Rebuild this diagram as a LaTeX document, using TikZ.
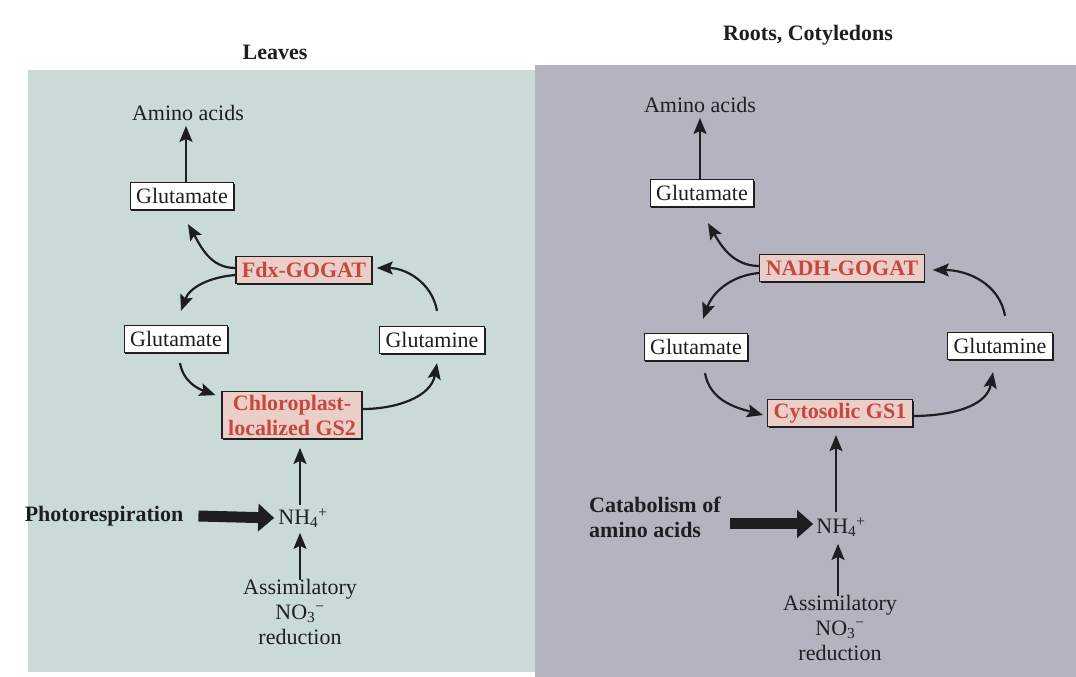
\documentclass[tikz,border=0pt]{standalone}
\usepackage{fontspec}
\setmainfont{Liberation Serif}
\usetikzlibrary{arrows.meta,shadows}
\definecolor{leftbg}{RGB}{202,219,215}
\definecolor{rightbg}{RGB}{180,180,192}
\definecolor{enzfill}{RGB}{236,206,200}
\definecolor{enztext}{RGB}{196,72,62}
\definecolor{ink}{RGB}{30,30,34}
\tikzset{
  txt/.style={font=\fontsize{22}{25}\selectfont, text=ink, inner sep=1pt},
  btxt/.style={txt, font=\fontsize{22}{25}\selectfont\bfseries},
  mol/.style={txt, draw=ink, fill=white, line width=1.3pt, inner xsep=6pt, inner ysep=3pt, minimum height=27pt,
    general shadow={fill=ink, shadow xshift=1.3pt, shadow yshift=-1.3pt}},
  enz/.style={mol, fill=enzfill, text=enztext, font=\fontsize{22}{25}\selectfont\bfseries, align=center},
  flow/.style={draw=ink, line width=2.2pt, -{Stealth[length=16pt,width=13pt,inset=3pt]}},
  bigflow/.style={draw=ink, line width=11pt, -{Triangle[length=16pt,width=27pt]}},
}
\begin{document}
\begin{tikzpicture}[x=1pt,y=1pt]
\useasboundingbox (0,0) rectangle (1076,677);
\fill[white] (0,0) rectangle (1076,677);
% panels
\fill[leftbg] (28,5) rectangle (535,607);
\fill[rightbg] (535,0) rectangle (1076,612);

% titles
\node[btxt] (leaves) at (275,625) {Leaves};
\node[btxt] (roots) at (808,642) {Roots, Cotyledons};

% ---------- left panel ----------
\node[txt] (aminoL) at (188,564) {Amino acids};
\node[mol] (gluTopL) at (182,481) {Glutamate};
\node[enz] (fdx) at (304,407) {Fdx-GOGAT};
\node[mol] (gluL) at (176,338) {Glutamate};
\node[mol] (glnL) at (432,337) {Glutamine};
\node[enz] (chl) at (292,262) {Chloroplast-\\localized GS2};
\node[txt] (nh4L) at (303,159) {NH\textsubscript{4}\textsuperscript{+}};
\node[btxt] (photo) at (104,161) {Photorespiration};
\node[txt, align=center] (assimL) at (300,65) {Assimilatory\\NO\textsubscript{3}\textsuperscript{−}\\reduction};

\draw[flow] (gluTopL.north -| 186,0) coordinate (a1) -- ([yshift=-4pt]a1 |- aminoL.south);
\draw[flow] ([yshift=2pt]fdx.west) to[out=180,in=-60] ([shift={(6pt,-14pt)}]gluTopL.south);
\draw[flow] ([yshift=-5pt]fdx.west) to[out=185,in=70] ([shift={(5pt,14pt)}]gluL.north);
\draw[flow] ([shift={(5pt,15pt)}]glnL.north) to[out=100,in=0] ([shift={(4pt,2pt)}]fdx.east);
\draw[flow] ([shift={(4pt,-10pt)}]gluL.south) to[out=-80,in=160] ([shift={(-6pt,-4pt)}]chl.north west);
\draw[flow] ([yshift=6pt]chl.east) to[out=0,in=-100] ([shift={(5pt,-9pt)}]glnL.south);
\draw[flow] ([yshift=2pt]nh4L.north -| 300,0) -- ([yshift=-9pt]chl.south -| 300,0);
\draw[bigflow] ([xshift=14pt]photo.east) -- ([xshift=-3pt]nh4L.west);
\draw[flow] ([yshift=-2pt]assimL.north) -- ([yshift=-4pt]nh4L.south -| assimL.north);

% ---------- right panel ----------
\node[txt] (aminoR) at (700,572) {Amino acids};
\node[mol] (gluTopR) at (702,484) {Glutamate};
\node[enz] (nadh) at (842,409) {NADH-GOGAT};
\node[mol] (gluR) at (696,330) {Glutamate};
\node[mol] (glnR) at (1000,331) {Glutamine};
\node[enz] (cyt) at (840,264) {Cytosolic GS1};
\node[txt] (nh4R) at (841,150) {NH\textsubscript{4}\textsuperscript{+}};
\node[btxt, align=left, anchor=west] (cat) at (588,160) {Catabolism of\\amino acids};
\node[txt, align=center] (assimR) at (840,49) {Assimilatory\\NO\textsubscript{3}\textsuperscript{−}\\reduction};

\draw[flow] (gluTopR.north -| 700,0) coordinate (b1) -- ([yshift=-4pt]b1 |- aminoR.south);
\draw[flow] ([yshift=2pt]nadh.west) to[out=180,in=-60] ([shift={(6pt,-16pt)}]gluTopR.south);
\draw[flow] ([yshift=-5pt]nadh.west) to[out=185,in=70] ([shift={(7pt,14pt)}]gluR.north);
\draw[flow] ([shift={(5pt,16pt)}]glnR.north) to[out=100,in=0] ([shift={(8pt,-2pt)}]nadh.east);
\draw[flow] ([shift={(9pt,-12pt)}]gluR.south) to[out=-80,in=165] ([shift={(-4pt,-2pt)}]cyt.west);
\draw[flow] ([yshift=-3pt]cyt.east) to[out=0,in=-100] ([shift={(-7pt,-12pt)}]glnR.south);
\draw[flow] ([yshift=4pt]nh4R.north -| 836,0) -- ([yshift=-8pt]cyt.south -| 836,0);
\draw[bigflow] (730,153) coordinate (c1) -- ([xshift=-2pt]nh4R.west |- c1);
\draw[flow] ([yshift=-2pt]assimR.north -| 838,0) -- ([yshift=-6pt]nh4R.south -| 838,0);
\end{tikzpicture}
\end{document}
